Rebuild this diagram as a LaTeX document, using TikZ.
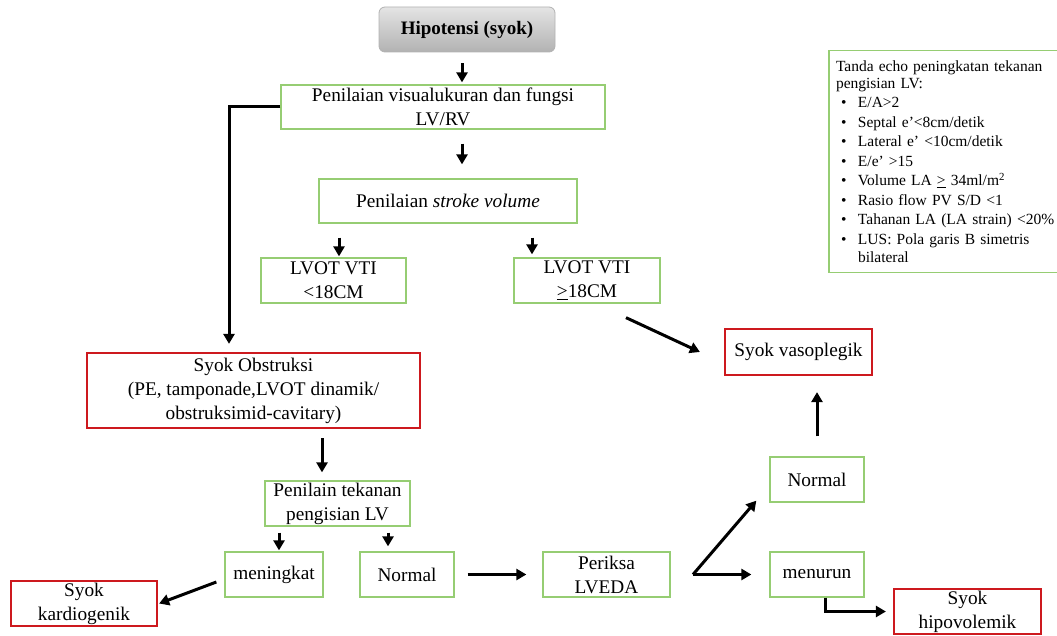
\documentclass[tikz,border=0pt]{standalone}
\usepackage{fontspec}
\setmainfont{Liberation Serif}
\usepackage{xcolor}
\usepackage{tikz}
\usetikzlibrary{positioning,arrows.meta,calc}
\definecolor{boxgreen}{RGB}{150,205,115}
\definecolor{boxred}{RGB}{205,25,30}
\definecolor{topgray}{RGB}{228,228,228}
\definecolor{botgray}{RGB}{178,178,178}
\newcommand{\itm}[1]{\makebox[22pt][l]{\hspace{5pt}\textbullet}\mbox{#1}}
\tikzset{
  gbox/.style  ={draw=boxgreen, line width=1.3pt, rectangle, align=center, inner sep=1pt, minimum height=45pt, font=\fontsize{19.3}{24}\selectfont},
  rbox/.style  ={draw=boxred, line width=2.2pt, rectangle, align=center, inner sep=1pt, minimum height=45pt, font=\fontsize{19.3}{24}\selectfont},
  topbox/.style={draw=botgray, line width=0.8pt, rectangle, rounded corners=6pt, top color=topgray, bottom color=botgray, minimum width=176pt, minimum height=45pt, font=\fontsize{19}{23}\selectfont\bfseries},
  infobox/.style={draw=boxgreen, line width=1.3pt, rectangle, align=left, inner xsep=7pt, inner ysep=0pt, minimum width=229pt, minimum height=222pt, text width=215pt, font=\fontsize{15.5}{17}\selectfont},
  arr/.style   ={-{Triangle[length=10pt,width=11pt]}, line width=3pt},
}

\begin{document}
\begin{tikzpicture}[x=1pt, y=-1pt]
  \useasboundingbox (0,0) rectangle (1057,636);

  \node[topbox] (hipo) at (467,29.5) {Hipotensi (syok)};
  \node[gbox, minimum width=324pt, minimum height=44pt] (pvis) at (443,107) {Penilaian visualukuran dan fungsi\\LV/RV};
  \node[gbox, minimum width=258pt, minimum height=44pt] (psv) at (448,201) {Penilaian \textit{stroke volume}};
  \node[gbox, minimum width=145pt] (lv1) at (333.5,280.5) {LVOT VTI\\<18CM};
  \node[gbox, minimum width=146pt] (lv2) at (587,280.5) {LVOT VTI\\\underline{>}18CM};
  \node[rbox, minimum width=147pt, minimum height=46pt] (vaso) at (798.5,352) {Syok vasoplegik};
  \node[rbox, minimum width=333pt, minimum height=75pt] (obs) at (253.5,390.5) {Syok Obstruksi\\(PE, tamponade,LVOT dinamik/\\obstruksimid-cavitary)};
  \node[gbox, minimum width=145pt] (ptek) at (337.5,503.5) {Penilain tekanan\\pengisian LV};
  \node[gbox, minimum width=98pt] (meni) at (274,574.5) {meningkat};
  \node[gbox, minimum width=94pt] (norm1) at (407,574.5) {Normal};
  \node[rbox, minimum width=146pt] (kard) at (84,603.5) {Syok\\kardiogenik};
  \node[gbox, minimum width=127pt] (lveda) at (606.5,574.5) {Periksa\\LVEDA};
  \node[gbox, minimum width=94pt] (norm2) at (817,479.5) {Normal};
  \node[gbox, minimum width=94pt] (menu) at (817,574.5) {menurun};
  \node[rbox, minimum width=147pt] (hipov) at (967.5,611.5) {Syok\\hipovolemik};
  \coordinate (fork) at (693,574.5);

  \node[infobox] (echo) at (943.5,161.5) {Tanda echo peningkatan tekanan\\pengisian LV:\\[2pt]
    \itm{E/A>2}\\[2.5pt] \itm{Septal e’<8cm/detik}\\[2.5pt] \itm{Lateral e’ <10cm/detik}\\[2.5pt]
    \itm{E/e’ >15}\\[2.5pt] \itm{Volume LA \underline{>} 34ml/m\textsuperscript{2}}\\[2.5pt]
    \itm{Rasio flow PV S/D <1}\\[2.5pt] \itm{Tahanan LA (LA strain) <20\%}\\[2.5pt]
    \itm{LUS: Pola garis B simetris}\\[1pt] \hspace*{22pt}bilateral};

  \draw[arr, shorten <=11pt, shorten >=2pt] ([xshift=-5pt]hipo.south) -- ([xshift=19pt]pvis.north);
  \draw[arr, shorten <=14pt, shorten >=14pt] ([xshift=19pt]pvis.south) -- ([xshift=14pt]psv.north);
  \draw[arr, shorten <=14pt, shorten >=1pt] ([xshift=-109pt]psv.south) -- ([xshift=5.5pt]lv1.north);
  \draw[arr, shorten <=14pt, shorten >=3pt] ([xshift=84pt]psv.south) -- ([xshift=-55pt]lv2.north);
  \draw[arr, shorten >=8pt] (pvis.west) -| ([xshift=-24.5pt]obs.north);
  \draw[arr] ([xshift=39pt,yshift=-14pt]lv2.south) -- ([xshift=-24pt]vaso.west);
  \draw[arr, shorten <=9pt, shorten >=8pt] ([xshift=68.5pt]obs.south) -- ([xshift=-15.5pt]ptek.north);
  \draw[arr, shorten <=6pt, shorten >=1pt] ([xshift=-58.5pt]ptek.south) -- ([xshift=5pt]meni.north);
  \draw[arr, shorten <=6pt, shorten >=5pt] ([xshift=50.5pt]ptek.south) -- ([xshift=-19pt]norm1.north);
  \draw[arr] ([xshift=-8pt,yshift=-7.5pt]meni.west) -- ([xshift=1pt]kard.east);
  \draw[arr, shorten <=13pt, shorten >=16pt] (norm1.east) -- (lveda.west);
  \draw[arr] (fork) -- ([xshift=-13pt,yshift=2pt]norm2.south west);
  \draw[arr, shorten >=18pt] (fork) -- (menu.west);
  \draw[arr, shorten <=20pt, shorten >=16pt] (norm2.north) -- ([xshift=18.5pt]vaso.south);
  \draw[arr, shorten >=7pt] ([xshift=8pt]menu.south) |- (hipov.west);
\end{tikzpicture}
\end{document}
